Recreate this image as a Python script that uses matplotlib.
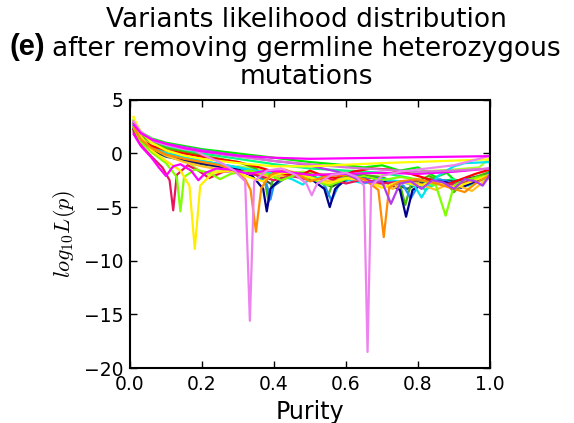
import matplotlib
matplotlib.use("Agg")
import matplotlib.pyplot as plt

plt.rcParams['mathtext.fontset'] = 'cm'

# (purity, log10 L) vertices, one list per variant curve
magenta_top = [(0.01, 2.7), (0.03, 1.9), (0.06, 1.3), (0.1, 0.9), (0.15, 0.5), (0.2, 0.2),
               (0.3, -0.2), (0.4, -0.4), (0.5, -0.5), (0.7, -0.4), (1.0, -0.25)]
yellow_flat = [(0.01, 3.3), (0.03, 2.0), (0.06, 1.0), (0.1, 0.3), (0.15, -0.2), (0.2, -0.5),
               (0.3, -0.9), (0.4, -1.2), (0.5, -1.2), (0.7, -0.9), (1.0, -0.55)]
lime = [(0.01, 3.1), (0.03, 2.0), (0.06, 1.4), (0.1, 1.0), (0.2, 0.4), (0.3, 0.0), (0.4, -0.4),
        (0.5, -0.8), (0.6, -1.1), (0.65, -1.3), (0.7, -1.1), (0.75, -1.6), (0.8, -1.3),
        (0.85, -2.2), (0.88, -1.8), (0.92, -3.1), (0.96, -2.3), (1.0, -1.9)]
purple = [(0.01, 2.9), (0.03, 1.9), (0.06, 1.3), (0.1, 0.9), (0.2, 0.3), (0.3, -0.2), (0.4, -0.7),
          (0.48, -1.0), (0.55, -1.5), (0.6, -1.9), (0.65, -2.7), (0.7, -2.6), (0.725, -4.7),
          (0.75, -2.8), (0.78, -2.6), (0.81, -3.3), (0.84, -2.5), (0.87, -2.7), (0.9, -3.3),
          (0.93, -2.4), (0.96, -2.6), (0.98, -3.0), (1.0, -2.0)]
crimson = [(0.01, 2.0), (0.03, 0.8), (0.06, -0.3), (0.09, -1.3), (0.11, -2.5), (0.12, -5.3),
           (0.13, -2.0), (0.16, -1.1), (0.19, -1.6), (0.22, -2.3), (0.26, -1.7), (0.3, -1.6),
           (0.35, -2.0), (0.4, -2.5), (0.45, -2.1), (0.5, -2.5), (0.55, -2.3), (0.6, -2.8),
           (0.65, -2.4), (0.7, -2.8), (0.8, -2.5), (0.9, -2.9), (1.0, -2.0)]
chartreuse = [(0.01, 2.4), (0.03, 1.1), (0.06, 0.1), (0.1, -0.9), (0.13, -2.2), (0.14, -5.4),
              (0.15, -2.2), (0.18, -1.5), (0.22, -1.8), (0.25, -2.4), (0.28, -1.9), (0.33, -1.6),
              (0.38, -1.9), (0.42, -2.5), (0.46, -2.0), (0.5, -2.3), (0.55, -3.0), (0.6, -2.4),
              (0.65, -2.1), (0.7, -2.5), (0.75, -2.2), (0.8, -2.4), (0.85, -3.0), (0.877, -5.8),
              (0.9, -3.0), (0.93, -2.5), (1.0, -2.0)]
yellow_dip = [(0.01, 3.4), (0.03, 1.6), (0.06, 0.3), (0.1, -0.7), (0.14, -1.6), (0.165, -3.0),
              (0.18, -8.9), (0.195, -3.0), (0.23, -1.8), (0.28, -1.6), (0.33, -2.2), (0.37, -2.6),
              (0.4, -2.0), (0.45, -1.7), (0.5, -2.2), (0.55, -2.8), (0.6, -2.3), (0.65, -2.5),
              (0.7, -3.2), (0.75, -2.6), (0.8, -3.0), (0.85, -2.6), (0.9, -3.2), (0.95, -2.6),
              (1.0, -2.0)]
magenta_dip = [(0.01, 1.8), (0.03, 0.7), (0.06, -0.4), (0.08, -1.3), (0.1, -2.1), (0.12, -1.2),
               (0.14, -1.0), (0.17, -1.6), (0.19, -2.5), (0.21, -1.8), (0.24, -1.4), (0.28, -1.5),
               (0.33, -1.9), (0.38, -1.6), (0.43, -1.7), (0.5, -2.0), (0.6, -1.9), (0.7, -1.8),
               (0.8, -1.9), (0.9, -1.7), (1.0, -1.4)]
violet = [(0.01, 3.0), (0.03, 2.0), (0.06, 1.3), (0.1, 0.8), (0.15, 0.4), (0.18, 0.3), (0.2, -0.1),
          (0.25, -0.8), (0.29, -1.6), (0.32, -2.6), (0.333, -15.6), (0.345, -2.6), (0.38, -1.6),
          (0.42, -1.4), (0.46, -2.0), (0.49, -2.8), (0.505, -3.9), (0.52, -2.8), (0.56, -2.0),
          (0.6, -1.8), (0.63, -2.2), (0.65, -3.0), (0.66, -18.5), (0.67, -3.0), (0.7, -2.1),
          (0.75, -1.7), (0.8, -1.5), (0.9, -1.1), (0.97, -0.5), (1.0, -0.2)]
orange = [(0.01, 2.5), (0.03, 1.3), (0.06, 0.5), (0.1, -0.1), (0.15, -0.5), (0.2, -0.8),
          (0.25, -1.1), (0.29, -1.6), (0.32, -2.4), (0.335, -3.4), (0.35, -7.3), (0.365, -3.2),
          (0.39, -2.0), (0.43, -1.5), (0.47, -2.0), (0.5, -2.6), (0.52, -2.4), (0.55, -2.1),
          (0.6, -2.0), (0.65, -2.4), (0.69, -3.4), (0.705, -7.8), (0.72, -3.2), (0.75, -2.6),
          (0.8, -2.4), (0.85, -2.8), (0.9, -3.3), (0.93, -3.6), (0.96, -2.8), (1.0, -2.0)]
navy = [(0.01, 2.3), (0.03, 1.2), (0.06, 0.4), (0.1, -0.2), (0.2, -0.9), (0.3, -1.5), (0.34, -2.1),
        (0.37, -3.3), (0.38, -5.4), (0.39, -3.3), (0.42, -2.3), (0.46, -1.9), (0.5, -2.3),
        (0.54, -3.3), (0.555, -5.0), (0.57, -3.3), (0.6, -2.4), (0.65, -2.1), (0.7, -2.5),
        (0.75, -3.4), (0.767, -5.9), (0.785, -3.4), (0.83, -2.5), (0.88, -2.7), (0.92, -3.2),
        (0.96, -2.6), (1.0, -2.0)]
dodger = [(0.01, 2.5), (0.03, 1.4), (0.06, 0.6), (0.1, 0.0), (0.2, -0.7), (0.3, -1.3), (0.35, -1.9),
          (0.38, -2.9), (0.39, -4.3), (0.40, -2.9), (0.44, -2.0), (0.5, -2.1), (0.54, -2.9),
          (0.56, -4.4), (0.58, -2.9), (0.63, -2.1), (0.7, -2.4), (0.76, -3.0), (0.78, -4.2),
          (0.8, -3.0), (0.86, -2.4), (0.92, -3.0), (0.97, -2.5), (1.0, -1.8)]
green = [(0.01, 2.8), (0.03, 1.7), (0.06, 1.0), (0.1, 0.5), (0.2, -0.2), (0.3, -0.8), (0.35, -1.4),
         (0.375, -2.6), (0.385, -4.5), (0.395, -2.6), (0.43, -1.7), (0.5, -1.9), (0.535, -2.6),
         (0.55, -4.0), (0.565, -2.6), (0.62, -1.9), (0.7, -2.2), (0.75, -2.9), (0.765, -4.8),
         (0.78, -2.9), (0.83, -2.1), (0.88, -2.8), (0.9, -3.6), (0.93, -2.6), (1.0, -1.7)]
slate = [(0.01, 2.2), (0.03, 1.1), (0.06, 0.3), (0.1, -0.3), (0.2, -1.0), (0.3, -1.5), (0.35, -2.0),
         (0.4, -3.0), (0.44, -2.1), (0.5, -2.2), (0.56, -3.1), (0.62, -2.2), (0.7, -2.3),
         (0.77, -3.3), (0.83, -2.4), (0.9, -2.6), (1.0, -1.9)]
cyan = [(0.01, 2.6), (0.03, 1.3), (0.06, 0.5), (0.1, 0.0), (0.15, -0.4), (0.2, -0.7), (0.25, -1.0),
        (0.3, -1.3), (0.35, -1.6), (0.4, -1.9), (0.45, -2.4), (0.48, -2.9), (0.5, -2.4),
        (0.55, -2.1), (0.6, -2.4), (0.65, -2.8), (0.7, -2.4), (0.75, -2.6), (0.79, -3.0),
        (0.81, -4.1), (0.83, -3.0), (0.86, -2.0), (0.9, -1.2), (0.93, -0.9), (1.0, -0.8)]
gold = [(0.01, 3.0), (0.03, 1.5), (0.06, 0.5), (0.1, -0.2), (0.15, -0.8), (0.2, -1.2), (0.25, -1.5),
        (0.3, -1.7), (0.35, -1.9), (0.4, -2.2), (0.45, -2.0), (0.5, -2.4), (0.55, -2.6),
        (0.6, -2.3), (0.66, -2.6), (0.7, -2.9), (0.73, -3.3), (0.76, -2.7), (0.8, -2.8),
        (0.85, -3.4), (0.88, -2.9), (0.92, -3.1), (0.95, -3.5), (0.98, -2.7), (1.0, -2.2)]
greenyellow = [(0.01, 2.7), (0.03, 1.5), (0.06, 0.7), (0.1, 0.2), (0.15, -0.5), (0.18, -1.3),
               (0.21, -2.0), (0.24, -1.5), (0.3, -1.2), (0.36, -1.5), (0.42, -2.0), (0.48, -1.7),
               (0.55, -2.0), (0.62, -1.6), (0.7, -1.9), (0.8, -1.7), (0.9, -1.5), (0.97, -1.3),
               (1.0, -0.4)]
springgreen = [(0.01, 2.9), (0.03, 1.8), (0.06, 1.1), (0.1, 0.6), (0.2, 0.0), (0.3, -0.5),
               (0.4, -1.0), (0.5, -1.4), (0.6, -1.6), (0.7, -1.8), (0.78, -2.3), (0.82, -3.4),
               (0.86, -2.6), (0.9, -2.4), (0.94, -3.0), (0.97, -2.5), (1.0, -2.3)]
red = [(0.01, 2.2), (0.03, 1.3), (0.06, 0.7), (0.1, 0.3), (0.2, -0.3), (0.3, -0.8), (0.36, -1.3),
       (0.42, -1.9), (0.47, -2.1), (0.5, -1.6), (0.53, -2.0), (0.57, -2.3), (0.62, -1.7),
       (0.67, -1.4), (0.72, -1.5), (0.78, -1.9), (0.84, -2.5), (0.88, -2.9), (0.92, -2.4),
       (0.96, -1.9), (1.0, -1.5)]
pink = [(0.01, 2.9), (0.03, 1.9), (0.06, 1.2), (0.1, 0.8), (0.2, 0.2), (0.3, -0.3), (0.4, -0.7),
        (0.5, -1.0), (0.6, -1.3), (0.7, -1.5), (0.8, -1.7), (0.9, -1.6), (1.0, -1.4)]

curves = [
    (lime, '#00ee00'), (greenyellow, '#adff2f'), (springgreen, '#00ff7f'),
    (slate, '#2f4f4f'), (green, '#44bb00'), (dodger, '#1e90ff'), (navy, '#00008b'),
    (cyan, '#00e5ee'), (gold, '#ffc125'), (red, '#ff0000'), (crimson, '#e8175d'),
    (chartreuse, '#7fff00'), (yellow_dip, '#ffee00'), (orange, '#ff8c00'),
    (magenta_dip, '#ff00ff'), (purple, '#b23aee'), (pink, '#da70d6'),
    (yellow_flat, '#ffff00'), (violet, '#ee82ee'), (magenta_top, '#ff00ff'),
]

fig = plt.figure(figsize=(5.74, 4.23), dpi=100)
ax = fig.add_axes([0.2265, 0.130, 0.627, 0.634])

for pts, col in curves:
    ax.plot([p for p, v in pts], [v for p, v in pts], color=col, lw=1.6)

ax.set_xlim(0, 1)
ax.set_ylim(-20, 5)
ax.set_xticks([0.0, 0.2, 0.4, 0.6, 0.8, 1.0])
ax.set_yticks([-20, -15, -10, -5, 0, 5])
ax.tick_params(direction='in', top=True, right=True, length=5, width=1, labelsize=13.5, pad=5)
for s in ax.spines.values():
    s.set_linewidth(1.5)

ax.set_xlabel('Purity', fontsize=17)
ax.set_ylabel(r'$log_{10}L(p)$', fontsize=16)

fig.text(0.534, 0.983, 'Variants likelihood distribution\nafter removing germline heterozygous\nmutations',
         ha='center', va='top', fontsize=19, linespacing=1.13)
fig.text(0.017, 0.870, '(e)', fontsize=21, fontweight='bold', family='Liberation Sans',
         ha='left', va='baseline')

fig.savefig('out.png', dpi=100)
